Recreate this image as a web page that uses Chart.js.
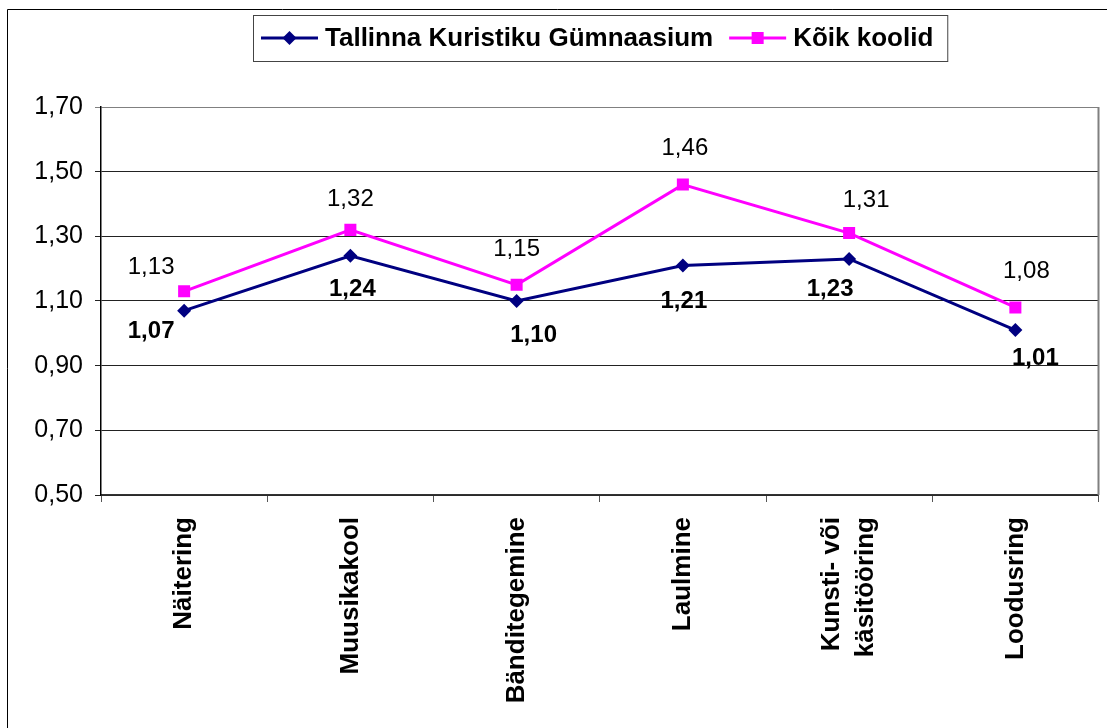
<!DOCTYPE html>
<html>
<head>
<meta charset="utf-8">
<script src="https://cdn.jsdelivr.net/npm/chart.js"></script>
<style>
  html, body { margin: 0; padding: 0; background: #fff; }
  canvas { display: block; }
</style>
</head>
<body>
<canvas id="chart" width="1107" height="728"></canvas>
<script>
const categories = ['Näitering', 'Muusikakool', 'Bänditegemine', 'Laulmine', ['Kunsti- või', 'käsitööring'], 'Loodusring'];
const schoolValues = [1.07, 1.24, 1.10, 1.21, 1.23, 1.01];
const allValues = [1.13, 1.32, 1.15, 1.46, 1.31, 1.08];
const yTicks = [0.5, 0.7, 0.9, 1.1, 1.3, 1.5, 1.7];

// where each value label sits relative to its point (Excel placed them by hand)
const schoolLabelShift = [[-33, 21], [2, 34], [17, 34], [1, 36], [-19, 30], [20, 28]];
const allLabelShift = [[-33, -24], [0, -30], [0, -35], [2, -36], [17, -33], [11, -36]];

const FONT = '"Liberation Sans", Arial, sans-serif';
Chart.defaults.font.family = FONT;
Chart.defaults.color = '#000';

function fmt(v) {
    return v.toFixed(2).replace('.', ',');
}

function drawMarker(ctx, style, x, y, r, color) {
    ctx.fillStyle = color;
    ctx.beginPath();
    if (style === 'rectRot') {
        ctx.moveTo(x - r, y);
        ctx.lineTo(x, y - r);
        ctx.lineTo(x + r, y);
        ctx.lineTo(x, y + r);
        ctx.closePath();
    } else {
        const s = r * Math.SQRT1_2;
        ctx.rect(x - s, y - s, 2 * s, 2 * s);
    }
    ctx.fill();
}

const framePlugin = {
    id: 'frame',
    beforeDraw(chart) {
        const ctx = chart.ctx;
        ctx.save();
        ctx.fillStyle = '#fff';
        ctx.fillRect(0, 0, chart.width, chart.height);
        ctx.strokeStyle = '#000';
        ctx.lineWidth = 1;
        ctx.beginPath();
        ctx.moveTo(7.5, chart.height);
        ctx.lineTo(7.5, 9.5);
        ctx.lineTo(chart.width, 9.5);
        ctx.stroke();
        ctx.restore();

        // centre multi-line rotated category labels on their tick
        chart.scales.x.getLabelItems().forEach(item => {
            if (Array.isArray(item.label) && !item._centred) {
                const lh = item.font.lineHeight;
                item.options.translation[0] -= (item.label.length - 1) * lh / 2;
                item._centred = true;
            }
        });
    },
    beforeDatasetsDraw(chart) {
        const { ctx, chartArea } = chart;
        ctx.save();
        ctx.strokeStyle = '#808080';
        ctx.lineWidth = 2;
        ctx.beginPath();
        ctx.moveTo(chartArea.right, chartArea.top);
        ctx.lineTo(chartArea.right, chartArea.bottom);
        ctx.stroke();
        ctx.restore();
    }
};

const valueLabelPlugin = {
    id: 'valueLabels',
    afterDatasetsDraw(chart) {
        const ctx = chart.ctx;
        ctx.save();
        ctx.textAlign = 'center';
        ctx.textBaseline = 'middle';
        ctx.fillStyle = '#000';
        chart.data.datasets.forEach((ds, i) => {
            const meta = chart.getDatasetMeta(i);
            ctx.font = (ds.labelBold ? 'bold ' : '') + '24px ' + FONT;
            meta.data.forEach((pt, j) => {
                const shift = ds.labelShift[j];
                ctx.fillText(fmt(ds.data[j]), pt.x + shift[0], pt.y + shift[1]);
            });
        });
        ctx.restore();
    }
};

const legendBoxPlugin = {
    id: 'legendBox',
    afterDraw(chart) {
        const { ctx, chartArea } = chart;
        ctx.save();
        ctx.font = 'bold 26px ' + FONT;
        const items = chart.data.datasets.map(ds => ({
            ds,
            w: ctx.measureText(ds.label).width
        }));
        const lineLen = 57, gap = 7, itemGap = 16, padL = 8, padR = 14;
        let total = padL + padR;
        items.forEach((it, i) => { total += lineLen + gap + it.w + (i ? itemGap : 0); });
        const left = Math.round((chartArea.left + chartArea.right) / 2 - total / 2);
        const top = 15, h = 46;
        const cy = top + h / 2;

        ctx.strokeStyle = '#444';
        ctx.lineWidth = 1;
        ctx.strokeRect(left + 0.5, top + 0.5, total, h);

        let x = left + padL;
        ctx.textBaseline = 'middle';
        ctx.textAlign = 'left';
        items.forEach((it, i) => {
            if (i) x += itemGap;
            ctx.strokeStyle = it.ds.borderColor;
            ctx.lineWidth = 3;
            ctx.beginPath();
            ctx.moveTo(x, cy);
            ctx.lineTo(x + lineLen, cy);
            ctx.stroke();
            drawMarker(ctx, it.ds.pointStyle, x + lineLen / 2, cy, it.ds.pointRadius, it.ds.pointBackgroundColor);
            x += lineLen + gap;
            ctx.fillStyle = '#000';
            ctx.fillText(it.ds.label, x, cy + 1);
            x += it.w;
        });
        ctx.restore();
    }
};

new Chart(document.getElementById('chart'), {
    type: 'line',
    data: {
        labels: categories,
        datasets: [{
            label: 'Tallinna Kuristiku Gümnaasium',
            data: schoolValues,
            borderColor: '#000080',
            backgroundColor: '#000080',
            pointBackgroundColor: '#000080',
            pointBorderColor: '#000080',
            pointStyle: 'rectRot',
            pointRadius: 7,
            pointBorderWidth: 0,
            borderWidth: 3,
            tension: 0,
            fill: false,
            labelBold: true,
            labelShift: schoolLabelShift
        }, {
            label: 'Kõik koolid',
            data: allValues,
            borderColor: '#ff00ff',
            backgroundColor: '#ff00ff',
            pointBackgroundColor: '#ff00ff',
            pointBorderColor: '#ff00ff',
            pointStyle: 'rect',
            pointRadius: 8.5,
            pointBorderWidth: 0,
            borderWidth: 3,
            tension: 0,
            fill: false,
            labelBold: false,
            labelShift: allLabelShift
        }]
    },
    options: {
        responsive: false,
        animation: false,
        events: [],
        layout: {
            padding: { top: 107, right: 5, left: 0, bottom: 0 }
        },
        plugins: {
            legend: { display: false },
            tooltip: { enabled: false }
        },
        scales: {
            x: {
                offset: true,
                grid: {
                    offset: true,
                    drawOnChartArea: false,
                    drawTicks: true,
                    tickLength: 7,
                    color: '#555'
                },
                border: { color: '#333', width: 1.5 },
                ticks: {
                    font: { size: 26, weight: 'bold', lineHeight: 1.3 },
                    color: '#000',
                    minRotation: 90,
                    maxRotation: 90,
                    autoSkip: false,
                    padding: 15
                },
                afterFit(scale) { scale.height = 233; }
            },
            y: {
                min: 0.5,
                max: 1.7,
                afterBuildTicks(scale) {
                    scale.ticks = yTicks.map(v => ({ value: v }));
                },
                grid: {
                    color: ctx => (ctx.tick && Math.abs(ctx.tick.value - 1.7) < 1e-6) ? '#808080' : '#222',
                    lineWidth: 1,
                    tickLength: 6
                },
                border: { color: '#000', width: 1.5 },
                ticks: {
                    font: { size: 25 },
                    color: '#000',
                    padding: 12,
                    callback: v => fmt(v)
                },
                afterFit(scale) { scale.width = 101; }
            }
        }
    },
    plugins: [framePlugin, valueLabelPlugin, legendBoxPlugin]
});
</script>
</body>
</html>
